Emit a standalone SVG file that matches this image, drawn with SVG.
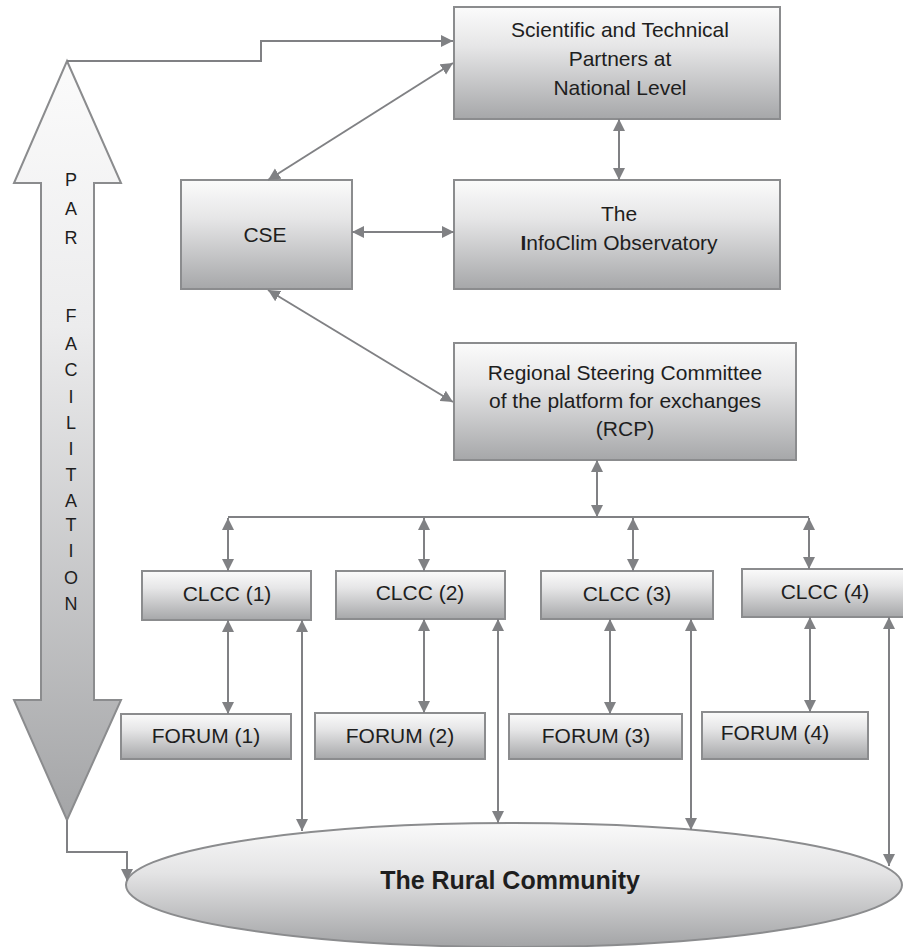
<svg xmlns="http://www.w3.org/2000/svg" width="903" height="947" viewBox="0 0 903 947">
<defs>
<linearGradient id="boxg" x1="0" y1="0" x2="0" y2="1">
<stop offset="0" stop-color="#fbfbfb"/>
<stop offset="0.35" stop-color="#e6e6e7"/>
<stop offset="1" stop-color="#a6a7a9"/>
</linearGradient>
<linearGradient id="bigg" gradientUnits="userSpaceOnUse" x1="0" y1="61" x2="0" y2="820">
<stop offset="0" stop-color="#fbfbfb"/>
<stop offset="0.35" stop-color="#ececed"/>
<stop offset="1" stop-color="#a4a5a7"/>
</linearGradient>
<linearGradient id="ellg" x1="0" y1="0" x2="0" y2="1">
<stop offset="0" stop-color="#fafafa"/>
<stop offset="0.4" stop-color="#e4e4e5"/>
<stop offset="1" stop-color="#a3a4a6"/>
</linearGradient>
<marker id="ah" markerUnits="userSpaceOnUse" markerWidth="13" markerHeight="13" refX="12" refY="6" orient="auto-start-reverse" viewBox="0 0 13 12">
<path d="M0,0 L12,6 L0,12 z" fill="#808184"/>
</marker>
</defs>
<style>
.box{fill:url(#boxg);stroke:#8b8c8e;stroke-width:2}
.t{font-family:"Liberation Sans",Arial,sans-serif;font-size:21px;fill:#1e1e1e;text-anchor:middle}
.v{font-family:"Liberation Sans",Arial,sans-serif;font-size:18px;fill:#1e1e1e;text-anchor:middle}
.c{fill:none;stroke:#808184;stroke-width:2}
.a2{fill:none;stroke:#808184;stroke-width:2;marker-start:url(#ah);marker-end:url(#ah)}
.a1{fill:none;stroke:#808184;stroke-width:2;marker-end:url(#ah)}
</style>
<rect width="903" height="947" fill="#ffffff"/>

<g id="par">
<polygon points="67,61 121,183 94,183 94,700 121,700 67,820 14,700 41,700 41,183 14,183" fill="url(#bigg)" stroke="#8b8c8e" stroke-width="2"/>
<text class="v" x="71" y="186">P</text>
<text class="v" x="71" y="215">A</text>
<text class="v" x="71" y="244">R</text>
<text class="v" x="71" y="322">F</text>
<text class="v" x="71" y="350">A</text>
<text class="v" x="71" y="376">C</text>
<text class="v" x="71" y="403">I</text>
<text class="v" x="71" y="429">L</text>
<text class="v" x="71" y="455">I</text>
<text class="v" x="71" y="481">T</text>
<text class="v" x="71" y="507">A</text>
<text class="v" x="71" y="531">T</text>
<text class="v" x="71" y="557">I</text>
<text class="v" x="71" y="584">O</text>
<text class="v" x="71" y="610">N</text>
</g>

<g id="scientific">
<rect class="box" x="454" y="7" width="326" height="112"/>
<text class="t" x="620" y="37">Scientific and Technical</text>
<text class="t" x="620" y="66">Partners at</text>
<text class="t" x="620" y="95">National Level</text>
</g>

<g id="cse">
<rect class="box" x="181" y="180" width="171" height="109"/>
<text class="t" x="265" y="242">CSE</text>
</g>

<g id="infoclim">
<rect class="box" x="454" y="180" width="326" height="109"/>
<text class="t" x="619" y="221">The</text>
<text class="t" x="619" y="250"><tspan font-weight="bold">I</tspan>nfoClim Observatory</text>
</g>

<g id="rcp">
<rect class="box" x="454" y="343" width="342" height="117"/>
<text class="t" x="625" y="380">Regional Steering Committee</text>
<text class="t" x="625" y="408">of the platform for exchanges</text>
<text class="t" x="625" y="436">(RCP)</text>
</g>

<g id="clcc1">
<rect class="box" x="142" y="571" width="169" height="49"/>
<text class="t" x="227" y="601">CLCC (1)</text>
</g>
<g id="clcc2">
<rect class="box" x="336" y="571" width="169" height="48"/>
<text class="t" x="420" y="600">CLCC (2)</text>
</g>
<g id="clcc3">
<rect class="box" x="541" y="571" width="172" height="48"/>
<text class="t" x="627" y="601">CLCC (3)</text>
</g>
<g id="clcc4">
<rect class="box" x="742" y="569" width="166" height="48"/>
<text class="t" x="825" y="599">CLCC (4)</text>
</g>

<g id="forum1">
<rect class="box" x="121" y="714" width="170" height="45"/>
<text class="t" x="206" y="743">FORUM (1)</text>
</g>
<g id="forum2">
<rect class="box" x="315" y="713" width="170" height="46"/>
<text class="t" x="400" y="743">FORUM (2)</text>
</g>
<g id="forum3">
<rect class="box" x="509" y="714" width="173" height="45"/>
<text class="t" x="596" y="743">FORUM (3)</text>
</g>
<g id="forum4">
<rect class="box" x="702" y="712" width="166" height="47"/>
<text class="t" x="775" y="740">FORUM (4)</text>
</g>

<g id="community">
<ellipse cx="514" cy="885" rx="388" ry="62" fill="url(#ellg)" stroke="#8b8c8e" stroke-width="2"/>
<text x="510" y="889" font-family="'Liberation Sans',Arial,sans-serif" font-size="25" font-weight="bold" fill="#1e1e1e" text-anchor="middle">The Rural Community</text>
</g>

<g id="connectors">
<path class="a1" d="M67,61 L261,61 L261,41 L453,41"/>
<path class="a1" d="M67,820 L67,852 L127,852 L127,881"/>
<path class="a2" d="M268,180 L453,63"/>
<path class="a2" d="M352,232 L454,232"/>
<path class="a2" d="M619,119 L619,180"/>
<path class="a2" d="M268,290 L453,402"/>
<path class="a2" d="M597,460 L597,517"/>
<path class="c" d="M228,517 L809,517"/>
<path class="a2" d="M228,518 L228,571"/>
<path class="a2" d="M424,518 L424,571"/>
<path class="a2" d="M633,518 L633,571"/>
<path class="a2" d="M809,518 L809,569"/>
<path class="a2" d="M228,620 L228,714"/>
<path class="a2" d="M424,619 L424,713"/>
<path class="a2" d="M610,619 L610,714"/>
<path class="a2" d="M810,617 L810,712"/>
<path class="a2" d="M302,620 L302,831"/>
<path class="a2" d="M498,619 L498,823"/>
<path class="a2" d="M691,619 L691,830"/>
<path class="a2" d="M889,617 L889,866"/>
</g>
</svg>
